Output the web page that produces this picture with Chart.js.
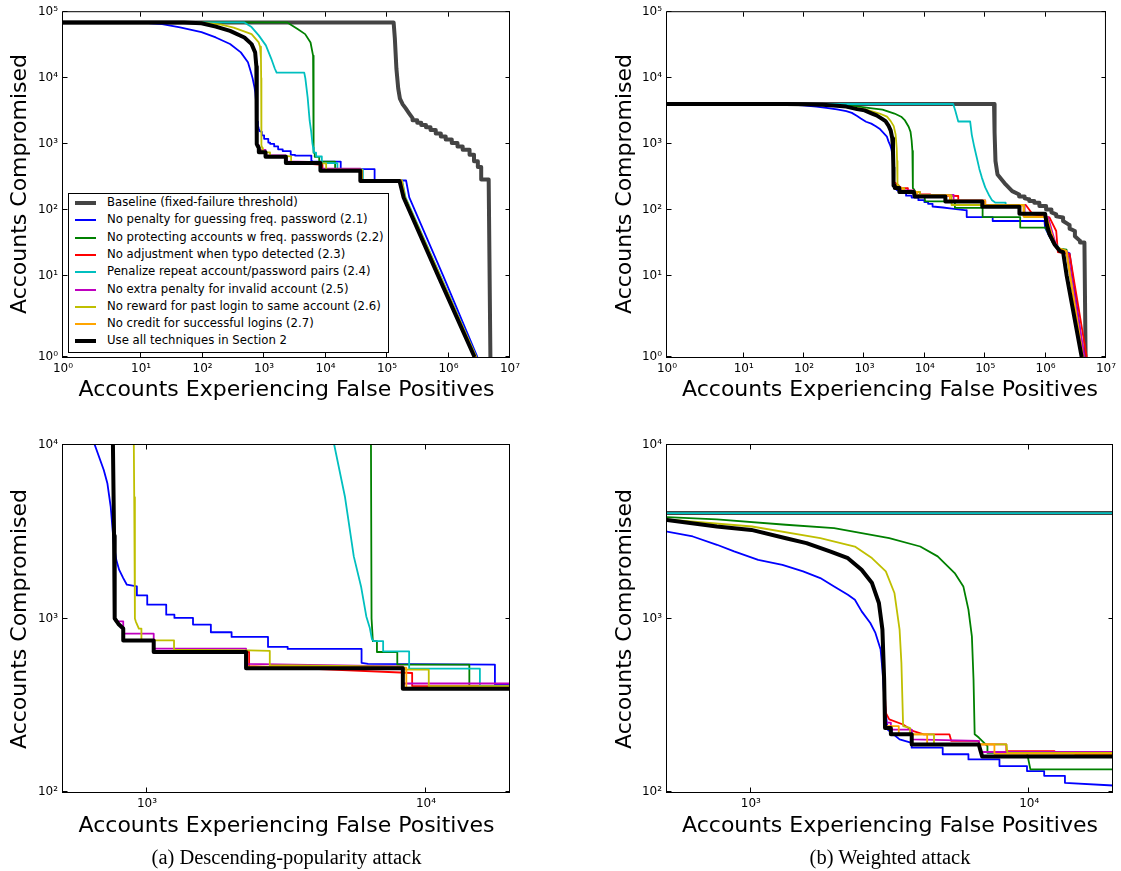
<!DOCTYPE html>
<html><head><meta charset="utf-8">
<script src="https://cdn.jsdelivr.net/npm/chart.js@4.4.1/dist/chart.umd.min.js"></script>
<style>
html,body{margin:0;padding:0;background:#fff;}
#page{position:relative;width:1121px;height:871px;overflow:hidden;background:#fff;font-family:'DejaVu Sans',sans-serif;color:#000;}
canvas{position:absolute;}
.ytitle,.xtitle,.caption,.ltext{position:absolute;white-space:nowrap;line-height:1;}
.ytitle{font-size:22px;transform:translate(-50%,-50%) rotate(-90deg);}
.xtitle{font-size:22px;transform:translate(-50%,-50%);}
.caption{font-family:'Liberation Serif','Times New Roman',serif;font-size:20.5px;transform:translate(-50%,-50%);}
.legendbox{position:absolute;border:1px solid #000;background:#fff;box-sizing:border-box;}
.lline{position:absolute;}
.ltext{font-size:11.7px;transform:translateY(-50%);}
</style>
</head><body><div id="page">
<canvas id="cTL" width="560" height="430" style="left:0;top:0"></canvas>
<canvas id="cTR" width="561" height="430" style="left:560px;top:0"></canvas>
<canvas id="cBL" width="560" height="441" style="left:0;top:430px"></canvas>
<canvas id="cBR" width="561" height="441" style="left:560px;top:430px"></canvas>
</div>
<script>
// ---------- series names / styles ----------
const seriesNames = [
  'Baseline (fixed-failure threshold)',
  'No penalty for guessing freq. password (2.1)',
  'No protecting accounts w freq. passwords (2.2)',
  'No adjustment when typo detected (2.3)',
  'Penalize repeat account/password pairs (2.4)',
  'No extra penalty for invalid account (2.5)',
  'No reward for past login to same account (2.6)',
  'No credit for successful logins (2.7)',
  'Use all techniques in Section 2'
];
const seriesColors = ['#444444','#0000ff','#008000','#ff0000','#00bfbf','#bf00bf','#bfbf00','#ffa500','#000000'];
const seriesWidths = [4,1.8,1.8,1.8,1.8,1.8,1.8,1.8,4];
const legendWidths = [4,2,2,2,2,2,2,2,4];

// ---------- tick values ----------
const fullXTicks = [1,10,100,1e3,1e4,1e5,1e6,1e7];
const fullYTicks = [1,10,100,1e3,1e4,1e5];
const zoomXTicks = [1e3,1e4];
const zoomYTicks = [100,1e3,1e4];
const fullXRange = [1,1e7];
const fullYRange = [1,1e5];
const zoomXRange = [500,20000];
const zoomYRange = [100,10000];

// ---------- (a) Descending-popularity attack: [false positives, compromised] ----------
const descBaseline = [[1,70000],[1.28e5,70000],[1.34e5,40000],[1.42e5,14000],[1.52e5,7000],[1.62e5,4900],[1.8e5,4000],[2.0e5,3500],[2.3e5,2900],[2.6e5,2470],[2.6e5,2300],[3.1e5,2300],[3.1e5,2100],[3.6e5,2100],[3.6e5,1950],[4.3e5,1950],[4.3e5,1800],[5.1e5,1800],[5.1e5,1640],[6.2e5,1640],[6.2e5,1450],[7.5e5,1450],[7.5e5,1300],[9.0e5,1300],[9.0e5,1170],[1.13e6,1170],[1.13e6,1035],[1.4e6,1035],[1.4e6,920],[1.7e6,920],[1.7e6,820],[2.2e6,820],[2.2e6,690],[2.6e6,690],[2.6e6,550],[3.0e6,550],[3.0e6,450],[3.4e6,450],[3.4e6,290],[4.5e6,290],[4.8e6,1]];
const descBlue = [[1,70000],[10,69500],[22,66000],[43,59000],[96,50000],[164,41400],[280,32900],[419,24600],[547,17400],[600,13000],[650,10000],[700,7180],[721,6020],[741,4420],[760,2720],[776,2180],[795,1905],[822,1710],[847,1566],[920,1530],[920,1358],[1002,1358],[1002,1202],[1172,1202],[1172,1052],[1254,1052],[1254,1007],[1462,1007],[1462,922],[1694,922],[1694,833],[2010,833],[2010,783],[2715,783],[2715,686],[3193,686],[3193,668],[5875,668],[5875,555],[6200,548],[17660,542],[17660,416],[62800,416],[62800,280],[2.04e5,280],[2.3e5,155],[8.2e5,10],[2.95e6,1]];
const descGreen = [[1,70000],[2390,70000],[3560,55000],[4660,46500],[5700,34700],[6270,21900],[6350,9800],[6380,1000],[6450,740],[6670,740],[6670,641],[7890,641],[7890,542],[14300,542],[14300,408],[38200,408],[38200,280],[1.72e5,280],[1.95e5,155],[7.2e5,10],[2.8e6,1]];
const descRed = [[1,70000],[50,69500],[96,68000],[164,60500],[280,52100],[479,41400],[627,32800],[716,24600],[750,15000],[755,10000],[762,3000],[766,1000],[790,930],[822,875],[822,748],[1057,748],[1057,641],[2323,641],[2323,531],[8920,485],[8920,408],[36400,408],[36400,280],[1.68e5,280],[1.9e5,155],[7.0e5,10],[2.75e6,1]];
const descCyan = [[1,70000],[480,70000],[626,59400],[819,44500],[1070,31400],[1307,19800],[1494,14000],[1600,12100],[4500,12100],[4690,10000],[5120,5050],[5510,2280],[5850,1530],[6110,1028],[6290,881],[6400,760],[6490,740],[7020,740],[7020,647],[8700,647],[8700,514],[15600,514],[15600,408],[40500,408],[40500,280],[1.76e5,280],[2.0e5,155],[7.4e5,10],[2.85e6,1]];
const descMagenta = [[1,70000],[50,69500],[96,68000],[164,60500],[280,52100],[479,41400],[627,32800],[716,24600],[750,15000],[755,10000],[762,3000],[766,1000],[780,963],[822,963],[822,818],[1057,818],[1057,670],[2265,670],[2265,547],[8260,530],[8260,422],[37000,422],[37000,280],[1.7e5,280],[1.92e5,155],[7.1e5,10],[2.78e6,1]];
const descYellow = [[1,70000],[100,69500],[200,65000],[321,58500],[627,46400],[819,34800],[860,30000],[890,20000],[897,10000],[900,5000],[905,1000],[912,960],[935,875],[955,875],[955,748],[1250,748],[1250,662],[2323,655],[2755,650],[2755,538],[8260,528],[8400,508],[10230,508],[10230,408],[39100,408],[39100,280],[1.74e5,280],[1.97e5,155],[7.3e5,10],[2.82e6,1]];
const descOrange = [[1,70000],[50,69500],[96,68000],[164,60500],[280,52100],[479,41400],[627,32800],[716,24600],[750,15000],[755,10000],[762,3000],[766,1000],[790,930],[822,875],[822,748],[1057,748],[1057,641],[2265,641],[2265,530],[8500,520],[8500,400],[39100,400],[39100,280],[1.7e5,280],[1.93e5,155],[7.2e5,10],[2.8e6,1]];
const descBlack = [[1,70000],[50,69500],[96,68000],[164,60500],[280,52100],[479,41400],[627,32800],[716,24600],[750,15000],[755,10000],[762,3000],[766,1000],[790,930],[822,875],[822,748],[1057,748],[1057,641],[2265,641],[2265,517],[8260,517],[8260,393],[36800,393],[36800,276],[1.6e5,276],[1.86e5,155],[6.8e5,10],[2.65e6,1]];

// ---------- (b) Weighted attack ----------
const wtdBaseline = [[1,4050],[1.4e5,4050],[1.43e5,1500],[1.48e5,550],[1.6e5,345],[2.18e5,244],[2.8e5,193],[3.65e5,172],[3.65e5,160],[4.5e5,160],[4.5e5,150],[5.37e5,145],[5.37e5,137],[6.5e5,137],[6.5e5,129],[7.9e5,129],[7.9e5,115],[1.02e6,115],[1.02e6,102],[1.25e6,102],[1.25e6,92],[1.5e6,86],[1.5e6,80],[1.95e6,77],[1.95e6,68],[2.5e6,59],[2.5e6,52],[3.06e6,48],[3.06e6,40],[3.72e6,34],[3.72e6,32],[4.4e6,32],[4.6e6,1]];
const wtdBlue = [[1,4050],[30,4040],[50,4000],[95,3880],[160,3700],[234,3550],[350,3350],[500,3170],[619,2970],[756,2660],[871,2435],[1063,2180],[1299,2040],[1541,1868],[1777,1710],[1992,1531],[2232,1371],[2365,1283],[2502,1099],[2687,942],[2803,826],[2926,662],[2970,508],[3013,357],[3099,229],[3423,201],[3782,192],[3782,180],[4890,180],[4890,165],[6050,165],[6050,154],[7820,154],[7820,141],[9820,141],[9820,132],[11320,132],[11320,124],[13440,124],[13440,113],[20030,109],[28000,105],[49400,99],[49400,78],[1.33e5,78],[1.33e5,68],[9.6e5,68],[9.8e5,54],[1.15e6,40],[1.5e6,28],[1.8e6,25],[2.5e6,22],[4.3e6,1]];
const wtdGreen = [[1,4050],[100,4040],[300,3950],[500,3840],[755,3730],[1336,3470],[1992,3320],[3143,2905],[4060,2600],[4690,2280],[5400,1828],[5800,1531],[6050,1125],[6225,789],[6310,445],[6370,215],[6590,206],[7080,184],[7080,168],[9820,168],[10100,135],[31500,135],[31500,108],[90600,108],[90600,78],[3.8e5,78],[3.8e5,54],[1.0e6,54],[1.33e6,31],[1.71e6,26],[2.22e6,25],[4.2e6,1]];
const wtdRed = [[1,4050],[50,4040],[100,4010],[200,3930],[350,3820],[500,3700],[755,3390],[1005,3240],[1337,2900],[1585,2720],[1935,2430],[2233,2226],[2500,1910],[2725,1600],[2885,1228],[2970,863],[3013,445],[3055,286],[3143,262],[3523,245],[3838,224],[4180,215],[5170,215],[5250,197],[6590,197],[6590,188],[8280,188],[8280,172],[12330,172],[12330,167],[14650,167],[14650,165],[20000,165],[35800,163],[35800,137],[1.0e5,137],[1.0e5,119],[4.7e5,119],[6.1e5,86],[1.16e6,77],[1.5e6,48],[1.6e6,23],[2.5e6,21.5],[4.8e6,1]];
const wtdCyan = [[1,4050],[29500,4050],[32000,3200],[35800,2200],[56300,2200],[60000,1380],[66000,900],[72800,615],[80000,420],[88300,307],[1.0e5,220],[1.14e5,172],[1.3e5,140],[1.48e5,129],[2.18e5,129],[2.18e5,119],[4.4e5,119],[4.4e5,80],[1.02e6,78],[1.33e6,34],[1.71e6,26],[2.2e6,24],[4.2e6,1]];
const wtdMagenta = [[1,4050],[50,4040],[100,4010],[200,3930],[350,3820],[500,3700],[755,3390],[1005,3240],[1337,2900],[1585,2720],[1935,2430],[2233,2226],[2500,1910],[2725,1600],[2885,1228],[2970,863],[3013,445],[3035,251],[3185,251],[3185,229],[3785,229],[3785,201],[6590,197],[6650,170],[30000,170],[30000,140],[1.0e5,140],[1.0e5,118],[4.5e5,118],[4.5e5,80],[1.1e6,78],[1.3e6,45],[1.55e6,26],[2.3e6,23],[4.4e6,1]];
const wtdYellow = [[1,4050],[100,4020],[200,3950],[350,3850],[500,3730],[1010,3390],[1777,2905],[2365,2600],[2723,2230],[3055,1868],[3280,1403],[3423,863],[3475,555],[3525,240],[3730,234],[3730,215],[4550,215],[4550,188],[8280,188],[8350,168],[27700,168],[27700,119],[4.4e5,119],[4.4e5,78],[1.02e6,78],[1.24e6,43],[1.5e6,27],[2.22e6,24],[4.1e6,1]];
const wtdOrange = [[1,4050],[50,4040],[100,4010],[200,3930],[350,3820],[500,3700],[755,3390],[1005,3240],[1337,2900],[1585,2720],[1935,2430],[2233,2226],[2500,1910],[2725,1600],[2885,1228],[2970,863],[3013,445],[3040,240],[3400,240],[3400,215],[4300,215],[4300,188],[7500,188],[7500,166],[26000,166],[26000,140],[1.0e5,140],[1.0e5,118],[4.3e5,118],[4.3e5,80],[1.05e6,78],[1.25e6,45],[1.5e6,27],[2.2e6,24],[4.15e6,1]];
const wtdBlack = [[1,4050],[50,4040],[100,4010],[200,3930],[350,3820],[500,3700],[755,3390],[1005,3240],[1337,2900],[1585,2720],[1935,2430],[2233,2226],[2500,1910],[2725,1600],[2885,1228],[2970,863],[3013,445],[3035,234],[3185,234],[3185,215],[3785,215],[3785,188],[6590,188],[6780,160],[21900,160],[21900,134],[89500,134],[89500,112],[3.69e5,112],[3.69e5,88],[9.8e5,88],[1.05e6,60],[1.16e6,43],[1.41e6,30],[1.71e6,24],[1.95e6,23],[2.24e6,10],[3.96e6,1]];

const descSeries = [descBaseline,descBlue,descGreen,descRed,descCyan,descMagenta,descYellow,descOrange,descBlack];
const wtdSeries = [wtdBaseline,wtdBlue,wtdGreen,wtdRed,wtdCyan,wtdMagenta,wtdYellow,wtdOrange,wtdBlack];

// ---------- log scale whose first decade is drawn wider (as in the full-range panels) ----------
class StretchLogScale extends Chart.LogarithmicScale {
  _w(){ const w = this.options.firstDecadeWeight; return (typeof w === 'number' && w > 0) ? w : 1; }
  _span(){ const a = Math.log10(this.min), b = Math.log10(this.max); return {a, total:(b - a - 1) + this._w()}; }
  getPixelForValue(value){
    if (value === undefined || value === 0) value = this.min;
    if (value === null || isNaN(value)) return NaN;
    const w = this._w(), s = this._span();
    const l = Math.log10(value) - s.a;
    const d = l <= 1 ? l * w : w + (l - 1);
    return this.getPixelForDecimal(d / s.total);
  }
  getValueForPixel(pixel){
    const w = this._w(), s = this._span();
    const d = this.getDecimalForPixel(pixel) * s.total;
    const l = d <= w ? d / w : 1 + (d - w);
    return Math.pow(10, s.a + l);
  }
}
StretchLogScale.id = 'stretchlog';
StretchLogScale.defaults = Chart.LogarithmicScale.defaults;
Chart.register(StretchLogScale);

const SUP = {'0':'\u2070','1':'\u00b9','2':'\u00b2','3':'\u00b3','4':'\u2074','5':'\u2075','6':'\u2076','7':'\u2077','8':'\u2078','9':'\u2079','-':'\u207b'};
function powLabel(v){ const e = Math.round(Math.log10(v)); return '10' + String(e).split('').map(c => SUP[c]).join(''); }

function axisCfg(type, range, tickVals, isX, boxSize, weight){
  return {
    type, min: range[0], max: range[1], firstDecadeWeight: weight,
    grid:{display:false, drawTicks:false}, border:{display:false},
    ticks:{autoSkip:false, maxRotation:0, minRotation:0, padding: isX ? 5 : 5, color:'#000',
      font:{family:'DejaVu Sans', size:12}, callback: v => powLabel(v)},
    afterBuildTicks: s => { s.ticks = tickVals.map(v => ({value:v})); },
    afterFit: s => { if (isX) s.height = boxSize; else s.width = boxSize; }
  };
}

const framePlugin = {
  id:'frame',
  afterDatasetsDraw(chart){
    const {ctx, chartArea:a} = chart; const x = chart.scales.x, y = chart.scales.y;
    const L = 4.5;
    ctx.save(); ctx.strokeStyle = '#000'; ctx.lineWidth = 1; ctx.beginPath();
    x.ticks.forEach(t => { const p = Math.round(x.getPixelForValue(t.value)) - 0.5;
      ctx.moveTo(p, a.bottom); ctx.lineTo(p, a.bottom - L); ctx.moveTo(p, a.top); ctx.lineTo(p, a.top + L); });
    y.ticks.forEach(t => { const p = Math.round(y.getPixelForValue(t.value)) - 0.5;
      ctx.moveTo(a.left, p); ctx.lineTo(a.left + L, p); ctx.moveTo(a.right, p); ctx.lineTo(a.right - L, p); });
    ctx.stroke();
    ctx.strokeRect(a.left - 0.5, a.top - 0.5, a.right - a.left, a.bottom - a.top + 1);
    ctx.restore();
  }
};

function makeChart(id, series, xType, xRange, xTicks, yRange, yTicks, pad, yBox, xBox, wx, wy){
  const datasets = series.map((pts, i) => ({
    label: seriesNames[i], data: pts.map(p => ({x:p[0], y:p[1]})),
    borderColor: seriesColors[i], backgroundColor: seriesColors[i], borderWidth: seriesWidths[i],
    pointRadius:0, pointHoverRadius:0, tension:0, fill:false, clip:0,
    borderJoinStyle:'round', borderCapStyle:'butt', order: series.length - 1 - i
  }));
  return new Chart(document.getElementById(id), {
    type:'line', data:{datasets},
    options:{
      responsive:false, animation:false, events:[], devicePixelRatio:1,
      layout:{padding:pad, autoPadding:false},
      plugins:{legend:{display:false}, tooltip:{enabled:false}},
      scales:{
        x: axisCfg(xType, xRange, xTicks, true, xBox, wx),
        y: axisCfg(xType, yRange, yTicks, false, yBox, wy)
      }
    },
    plugins:[framePlugin]
  });
}

// top panels: plot area x 63..510 (left) / 667..1113 (right), y 11..357
makeChart('cTL', descSeries, 'stretchlog', fullXRange, fullXTicks, fullYRange, fullYTicks, {left:0, top:11, right:50, bottom:0}, 63, 73, 1.27, 1.23);
makeChart('cTR', wtdSeries, 'stretchlog', fullXRange, fullXTicks, fullYRange, fullYTicks, {left:0, top:11, right:8, bottom:0}, 107, 73, 1.27, 1.23);
// bottom panels: plot area y 445..792
makeChart('cBL', descSeries, 'logarithmic', zoomXRange, zoomXTicks, zoomYRange, zoomYTicks, {left:0, top:15, right:50, bottom:0}, 63, 79, 1, 1);
makeChart('cBR', wtdSeries, 'logarithmic', zoomXRange, zoomXTicks, zoomYRange, zoomYTicks, {left:0, top:15, right:8, bottom:0}, 107, 79, 1, 1);

// ---------- text ----------
const page = document.getElementById('page');
function addText(cls, txt, x, y){ const d = document.createElement('div'); d.className = cls; d.textContent = txt; d.style.left = x + 'px'; d.style.top = y + 'px'; page.appendChild(d); return d; }
const yTitle = 'Accounts Compromised', xTitle = 'Accounts Experiencing False Positives';
[[19,184],[19,618.5],[624,184],[624,618.5]].forEach(p => addText('ytitle', yTitle, p[0], p[1]));
[[286.5,389],[286.5,825],[890,389],[890,825]].forEach(p => addText('xtitle', xTitle, p[0], p[1]));
addText('caption', '(a) Descending-popularity attack', 286.5, 857);
addText('caption', '(b) Weighted attack', 890, 857);

// legend (top-left panel)
const lb = document.createElement('div'); lb.className = 'legendbox';
Object.assign(lb.style, {left:'68px', top:'193px', width:'321px', height:'160px'}); page.appendChild(lb);
seriesNames.forEach((name, i) => {
  const cy = 203 + i * 17.3;
  const lw = legendWidths[i];
  const ln = document.createElement('div'); ln.className = 'lline';
  Object.assign(ln.style, {left:'75px', width:'21px', top:(Math.round(cy) - lw / 2) + 'px', height:lw + 'px', background:seriesColors[i]});
  page.appendChild(ln);
  addText('ltext', name, 107, cy);
});
</script>
</body></html>
